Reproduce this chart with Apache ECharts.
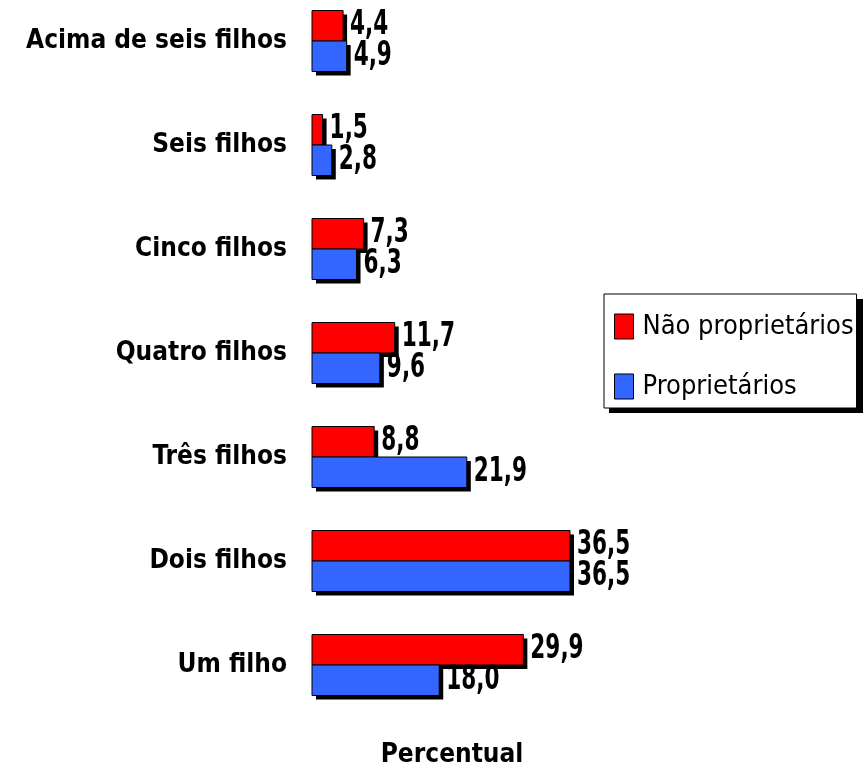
<!DOCTYPE html>
<html><head><meta charset="utf-8">
<script src="https://cdn.jsdelivr.net/npm/echarts@6/dist/echarts.min.js"></script>
<style>html,body{margin:0;padding:0;background:#fff}#c{width:867px;height:771px}</style>
</head><body><div id="c"></div>
<script>
var categories = ['Um filho', 'Dois filhos', 'Três filhos', 'Quatro filhos', 'Cinco filhos', 'Seis filhos', 'Acima de seis filhos'];
var naoProprietarios = [29.9, 36.5, 8.8, 11.7, 7.3, 1.5, 4.4];
var proprietarios = [18.0, 36.5, 21.9, 9.6, 6.3, 2.8, 4.9];
var seriesNames = ['Não proprietários', 'Proprietários'];
var colors = ['#FF0000', '#3366FF'];
var axisName = 'Percentual';

var FONT = '"DejaVu Sans Condensed", "Liberation Sans Narrow", sans-serif';
var chart = echarts.init(document.getElementById('c'));

function makeRender(slot, color){
  return function(params, api){
    var val = api.value(0), cat = api.value(1);
    var c = api.coord([val, cat]);
    var z = api.coord([0, cat]);
    var band = api.size([0, 1])[1];
    var h = band * 0.293;
    var y0 = slot === 0 ? c[1] - h : c[1];
    var w = c[0] - z[0];
    return {type: 'group', children: [
      {type: 'rect', shape: {x: z[0] + 4, y: y0 + 4, width: w, height: h},
        style: {fill: '#000'}},
      {type: 'rect', shape: {x: z[0], y: y0, width: w, height: h},
        style: {fill: color, stroke: '#000', lineWidth: 1}},
      {type: 'text', x: c[0] + 7, y: y0 + h / 2, scaleY: 1.4,
        style: {text: val.toFixed(1).replace('.', ','), fontFamily: FONT, fontWeight: 'bold',
          fontSize: 24, fill: '#000', align: 'left', verticalAlign: 'middle'}}
    ]};
  };
}
function toData(arr){ return arr.map(function(v, i){ return [v, i]; }); }

chart.setOption({
  animation: false,
  grid: {left: 312, width: 258, top: -11, height: 728, outerBoundsMode: 'none', containLabel: false},
  graphic: [{type: 'rect', left: 609, top: 299, z: 0, silent: true,
    shape: {width: 254, height: 114}, style: {fill: '#000'}}],
  legend: {
    orient: 'vertical', left: 604, top: 294, data: seriesNames, icon: 'rect', z: 10,
    backgroundColor: '#fff', borderColor: '#000', borderWidth: 1,
    padding: [19, 3, 8, 10], itemGap: 33, itemWidth: 19, itemHeight: 25,
    itemStyle: {borderColor: '#000', borderWidth: 1},
    textStyle: {fontFamily: FONT, fontSize: 27, color: '#000', padding: [0, 0, 0, 4]}
  },
  xAxis: {type: 'value', min: 0, max: 36.5, name: axisName, nameLocation: 'middle', nameGap: 25,
    nameTextStyle: {fontFamily: FONT, fontWeight: 'bold', fontSize: 26, color: '#000', padding: [0, 0, 0, 22]},
    axisLine: {show: false}, axisTick: {show: false}, axisLabel: {show: false}, splitLine: {show: false}},
  yAxis: {type: 'category', data: categories,
    axisLine: {show: false}, axisTick: {show: false}, splitLine: {show: false},
    axisLabel: {margin: 25, fontFamily: FONT, fontWeight: 'bold', fontSize: 26, color: '#000'}},
  series: [
    {name: seriesNames[0], type: 'custom', data: toData(naoProprietarios), encode: {x: 0, y: 1},
      renderItem: makeRender(0, colors[0]), itemStyle: {color: colors[0], borderColor: '#000', borderWidth: 1}, z: 2, clip: false},
    {name: seriesNames[1], type: 'custom', data: toData(proprietarios), encode: {x: 0, y: 1},
      renderItem: makeRender(1, colors[1]), itemStyle: {color: colors[1], borderColor: '#000', borderWidth: 1}, z: 3, clip: false}
  ]
});
</script></body></html>
